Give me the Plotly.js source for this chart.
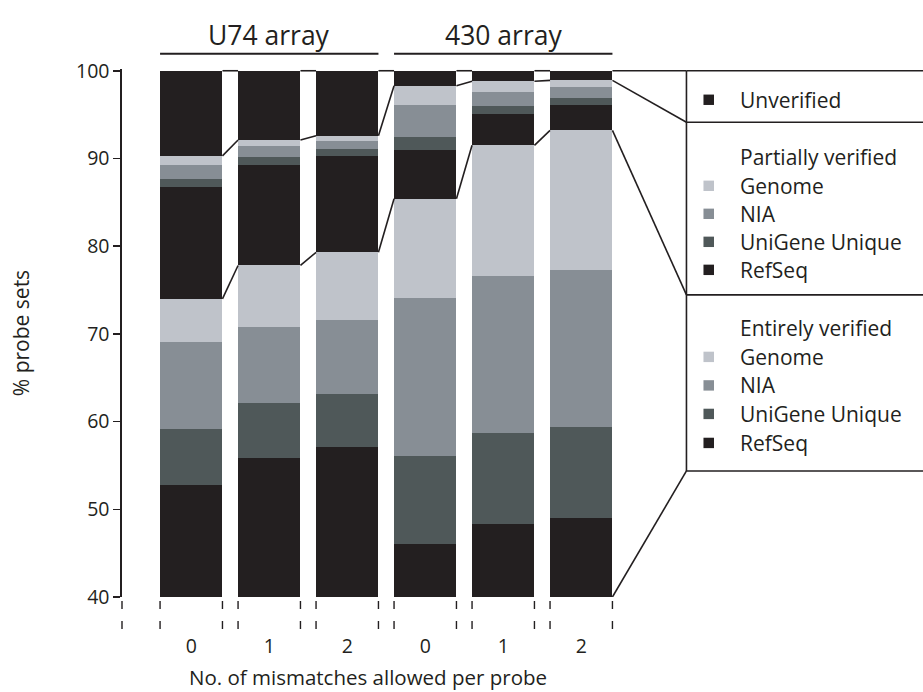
<!DOCTYPE html>
<html><head><meta charset="utf-8">
<script src="https://cdn.plot.ly/plotly-3.0.1.min.js"></script>
<style>html,body{margin:0;padding:0;background:#fff}#chart{width:923px;height:692px}</style>
</head><body><div id="chart"></div>
<script>
// ---- data ----
const positions = [0, 1, 2, 3, 4, 5];
const mismatchLabels = ['0', '1', '2', '0', '1', '2'];
const arrayGroups = ['U74 array', '430 array'];
// segment heights (% probe sets), bottom to top
const entireRefSeq  = [52.8, 55.9, 57.1, 46.0, 48.3, 49.0];
const entireUniGene = [6.4, 6.2, 6.1, 10.1, 10.4, 10.4];
const entireNIA     = [9.9, 8.7, 8.4, 18.0, 17.9, 17.9];
const entireGenome  = [4.9, 7.0, 7.7, 11.3, 14.9, 15.9];
const partRefSeq    = [12.7, 11.5, 11.0, 5.6, 3.6, 2.9];
const partUniGene   = [1.0, 0.9, 0.8, 1.5, 0.9, 0.8];
const partNIA       = [1.5, 1.2, 0.9, 3.6, 1.6, 1.2];
const partGenome    = [1.1, 0.7, 0.6, 2.2, 1.2, 0.8];
const unverified    = [9.7, 7.9, 7.4, 1.7, 1.2, 1.1];
const legendSections = ['Partially verified', 'Entirely verified'];
const legendItems = ['Genome', 'NIA', 'UniGene Unique', 'RefSeq'];

// ---- styles ----
const BLACK = '#231f20', DARK = '#4f5859', MID = '#878e95', LIGHT = '#bfc3ca';
const FONT = '"Open Sans", "Noto Sans", sans-serif';
const segs = [entireRefSeq, entireUniGene, entireNIA, entireGenome,
              partRefSeq, partUniGene, partNIA, partGenome, unverified];
const segColors = [BLACK, DARK, MID, LIGHT, BLACK, DARK, MID, LIGHT, BLACK];
const BW = 0.8;

// ---- geometry (pixels of the 923x692 page) ----
const L = 122, R = 613.6, T = 69.25, B = 597;
const XR = [-0.888, 5.42], YR = [40, 100.2];
const plotW = R - L, plotH = B - T;
const pxX = px => (px - L) / plotW;
const pxY = py => (B - py) / plotH;
const dataYfromPx = py => YR[0] + (B - py) / plotH * (YR[1] - YR[0]);
const paperOfX = x => (x - XR[0]) / (XR[1] - XR[0]);

const traces = segs.map((arr, k) => ({
  type: 'bar', x: positions, y: arr, width: BW,
  marker: {color: segColors[k], line: {width: 0}},
  showlegend: false, hoverinfo: 'skip'
}));

// cumulative levels
const cum = positions.map((_, i) => { let s = 0; return segs.map(a => (s += a[i])); });

const shapes = [];
const LW = 1.6;
// connectors between neighbouring bars
[3, 7, 8].forEach(k => {
  for (let i = 0; i < positions.length - 1; i++) {
    shapes.push({type: 'line', xref: 'x', yref: 'y',
      x0: positions[i] + BW / 2, y0: cum[i][k],
      x1: positions[i + 1] - BW / 2, y1: cum[i + 1][k],
      line: {color: BLACK, width: LW}});
  }
});
// connectors from last bar to legend boxes
const last = positions.length - 1;
const boxX = 686;
const boxYs = [71, 122.5, 295, 471];
const lastEdge = paperOfX(positions[last] + BW / 2);
const lastLevels = [cum[last][8], cum[last][7], cum[last][3], YR[0]];
lastLevels.forEach((lv, j) => {
  shapes.push({type: 'line', xref: 'paper', yref: 'y',
    x0: lastEdge, y0: lv, x1: pxX(boxX), y1: dataYfromPx(boxYs[j]),
    line: {color: BLACK, width: LW}});
});
// box lines
boxYs.forEach(py => shapes.push({type: 'line', xref: 'paper', yref: 'paper',
  x0: pxX(boxX), x1: pxX(935), y0: pxY(py), y1: pxY(py), line: {color: BLACK, width: LW}}));
shapes.push({type: 'line', xref: 'paper', yref: 'paper',
  x0: pxX(boxX), x1: pxX(boxX), y0: pxY(boxYs[0]), y1: pxY(boxYs[3]), line: {color: BLACK, width: LW}});

// dashed tick marks at bar edges
const edgeY0 = pxY(601), edgeY1 = pxY(629);
shapes.push({type: 'line', xref: 'paper', yref: 'paper', x0: 0, x1: 0, y0: edgeY0, y1: edgeY1,
  line: {color: BLACK, width: 1.4, dash: '8px,12px'}});
positions.forEach(p => {
  [p - BW / 2, p + BW / 2].forEach(e => shapes.push({type: 'line', xref: 'x', yref: 'paper',
    x0: e, x1: e, y0: edgeY0, y1: edgeY1, line: {color: BLACK, width: 1.4, dash: '8px,12px'}}));
});

// group lines on top
const groupRanges = [[0, 2], [3, 5]];
groupRanges.forEach(g => shapes.push({type: 'line', xref: 'x', yref: 'paper',
  x0: positions[g[0]] - BW / 2, x1: positions[g[1]] + BW / 2, y0: pxY(54), y1: pxY(54),
  line: {color: BLACK, width: 2}}));

const annotations = [];
groupRanges.forEach((g, j) => annotations.push({xref: 'x', yref: 'paper',
  x: (positions[g[0]] + positions[g[1]]) / 2, y: pxY(35.5), text: arrayGroups[j],
  showarrow: false, xanchor: 'center', yanchor: 'middle',
  font: {family: FONT, size: 26.5, color: BLACK}}));

// legend
const legFont = {family: FONT, size: 21, color: BLACK};
const txtX = pxX(737.5);
function legMarker(py, color) {
  shapes.push({type: 'rect', xref: 'paper', yref: 'paper',
    x0: pxX(703), x1: pxX(713.5), y0: pxY(py - 5.2), y1: pxY(py + 5.2),
    fillcolor: color, line: {width: 0}});
}
function legText(py, text) {
  annotations.push({xref: 'paper', yref: 'paper', x: txtX, y: pxY(py), text: text,
    showarrow: false, xanchor: 'left', yanchor: 'middle', font: legFont});
}
legMarker(100, BLACK); legText(100, 'Unverified');
const itemColors = [LIGHT, MID, DARK, BLACK];
const sectionRows = [[157, 186, 214, 242, 270], [328, 357, 385.5, 414, 443]];
legendSections.forEach((sec, s) => {
  legText(sectionRows[s][0], sec);
  legendItems.forEach((it, j) => {
    legMarker(sectionRows[s][j + 1], itemColors[j]);
    legText(sectionRows[s][j + 1], it);
  });
});

const layout = {
  width: 923, height: 692,
  margin: {l: L, r: 923 - R, t: T, b: 692 - B, pad: 0},
  paper_bgcolor: '#fff', plot_bgcolor: '#fff',
  barmode: 'stack',
  font: {family: FONT, color: BLACK},
  xaxis: {range: XR, tickvals: positions, ticktext: mismatchLabels, ticks: '',
    showline: false, showgrid: false, zeroline: false, ticklabelstandoff: 35,
    tickfont: {family: FONT, size: 19.5, color: BLACK},
    title: {text: 'No. of mismatches allowed per probe', font: {family: FONT, size: 20.5, color: BLACK}, standoff: 13}},
  yaxis: {range: YR, tickvals: [40, 50, 60, 70, 80, 90, 100], ticks: 'outside', ticklen: 7,
    tickwidth: 1.5, tickcolor: BLACK, showline: true, linewidth: 1.6, linecolor: BLACK,
    showgrid: false, zeroline: false,
    tickfont: {family: FONT, size: 19.5, color: BLACK},
    title: {text: '% probe sets', font: {family: FONT, size: 21, color: BLACK}, standoff: 40}},
  shapes: shapes, annotations: annotations
};
Plotly.newPlot('chart', traces, layout, {displayModeBar: false, staticPlot: true});
</script>
</body></html>
